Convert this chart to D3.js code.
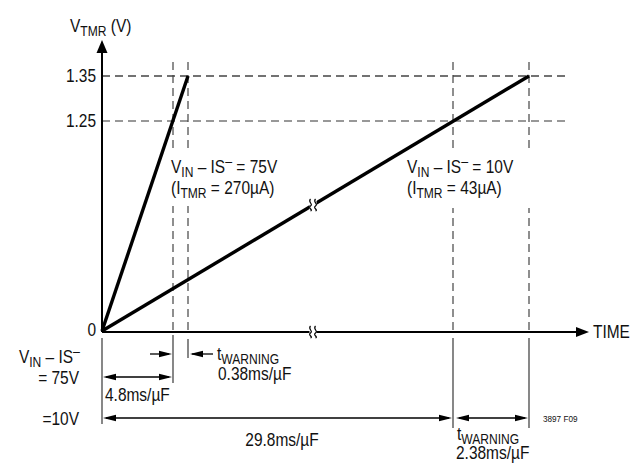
<!DOCTYPE html>
<html>
<head>
<meta charset="utf-8">
<script src="https://cdn.jsdelivr.net/npm/d3@7"></script>
<style>
  html, body { margin: 0; padding: 0; background: #fff; }
  svg text { font-family: "Liberation Sans", Arial, sans-serif; fill: #111; }
</style>
</head>
<body>
<svg id="chart" width="631" height="464"></svg>
<script>
// ---- data ----
const timeMarks = [0, 4.8, 5.18, 29.8, 32.18];          // ms/µF (schematic, broken axis)
const voltTicks = [0, 1.25, 1.35];                        // V
const voltTickLabels = ["0", "1.25", "1.35"];
const line75 = [[0, 0], [5.18, 1.35]];                    // VIN – IS⁻ = 75V
const line10 = [[0, 0], [32.18, 1.35]];                   // VIN – IS⁻ = 10V
const warnTimes = [4.8, 5.18, 29.8, 32.18];

// ---- scales (piecewise: schematic drawing) ----
const x = d3.scaleLinear().domain(timeMarks).range([102, 173, 188, 453, 529]);
const y = d3.scaleLinear().domain(voltTicks).range([331, 121, 76]);

const svg = d3.select("#chart");
const x0 = x(0), y0 = y(0);
const SX = 0.86; // narrow-font emulation

function arrowHead(g, tipX, tipY, dir, len = 13, half = 3.2) {
  let p;
  if (dir === "r") p = [[tipX, tipY], [tipX - len, tipY - half], [tipX - len, tipY + half]];
  else if (dir === "l") p = [[tipX, tipY], [tipX + len, tipY - half], [tipX + len, tipY + half]];
  else p = [[tipX, tipY], [tipX - half - 2, tipY + len], [tipX + half + 2, tipY + len]];
  g.append("path").attr("d", d3.line()(p) + "Z").attr("fill", "#000");
}

// ---- dashed guide lines ----
const guides = svg.append("g");
guides.append("line").attr("x1", x0).attr("x2", 568).attr("y1", y(1.35)).attr("y2", y(1.35))
  .attr("stroke", "#444").attr("stroke-width", 1.3).attr("stroke-dasharray", "8,5");
guides.append("line").attr("x1", x0).attr("x2", 568).attr("y1", y(1.25)).attr("y2", y(1.25))
  .attr("stroke", "#777").attr("stroke-width", 1.6).attr("stroke-dasharray", "8,5");
warnTimes.forEach(t => {
  guides.append("line").attr("x1", x(t)).attr("x2", x(t)).attr("y1", 62).attr("y2", y0)
    .attr("stroke", "#444").attr("stroke-width", 1.2).attr("stroke-dasharray", "8,5");
});
// white backgrounds under in-chart labels (interrupt dashed guides only)
guides.append("rect").attr("x", 166).attr("y", 150).attr("width", 124).attr("height", 56).attr("fill", "#fff");
guides.append("rect").attr("x", 403).attr("y", 151).attr("width", 130).attr("height", 57).attr("fill", "#fff");

// ---- ramps ----
const lineGen = d3.line().x(d => x(d[0])).y(d => y(d[1]));
svg.append("path").attr("d", lineGen(line75)).attr("fill", "none").attr("stroke", "#000").attr("stroke-width", 3.4);
svg.append("path").attr("d", lineGen(line10)).attr("fill", "none").attr("stroke", "#000").attr("stroke-width", 3.4);

// ---- axes ----
const axes = svg.append("g");
axes.append("line").attr("x1", x0).attr("x2", x0).attr("y1", 50).attr("y2", y0 + 1).attr("stroke", "#000").attr("stroke-width", 2);
arrowHead(axes, x0, 40, "u", 13, 3.5);
axes.append("line").attr("x1", x0).attr("x2", 578).attr("y1", y0 + 1).attr("y2", y0 + 1).attr("stroke", "#000").attr("stroke-width", 2);
arrowHead(axes, 589, y0 + 1, "r", 13, 5);

// ---- break marks ----
function breakMark(cx, cy, angle) {
  const g = svg.append("g").attr("transform", `translate(${cx},${cy}) rotate(${angle})`);
  g.append("rect").attr("x", -3.5).attr("y", -5).attr("width", 7).attr("height", 10).attr("fill", "#fff");
  const s = "M0,-6 C-3,-3 3,-1 0,1 C-3,3 3,5 0,6";
  g.append("path").attr("d", s).attr("transform", "translate(-2.5,0)").attr("fill", "none").attr("stroke", "#000").attr("stroke-width", 1.2);
  g.append("path").attr("d", s).attr("transform", "translate(2.5,0)").attr("fill", "none").attr("stroke", "#000").attr("stroke-width", 1.2);
}
const bx = 313;
const by = y0 + (bx - x0) * (y(1.35) - y0) / (x(32.18) - x0);
breakMark(bx, by, 0);
breakMark(bx, y0 + 1, 0);

// helper for (condensed) rich text
function rich(g, xPos, yPos, parts, size, anchor) {
  const t = g.append("text").attr("transform", `translate(${xPos},${yPos}) scale(${SX},1)`).attr("font-size", size);
  if (anchor) t.attr("text-anchor", anchor);
  parts.forEach(p => {
    const ts = t.append("tspan").text(p.t);
    if (p.sub) ts.attr("font-size", size * 0.78).attr("dy", 4);
    if (p.sup) ts.attr("font-size", size * 0.8).attr("dy", -7);
    if (p.back) ts.attr("dy", p.back);
  });
  return t;
}
function plain(g, xPos, yPos, str, size, anchor) {
  return rich(g, xPos, yPos, [{t: str}], size, anchor);
}

const labels = svg.append("g");

// ---- y tick labels ----
voltTicks.forEach((d, i) => plain(labels, 96, y(d) + (d === 0 ? 5 : 6), voltTickLabels[i], 18, "end"));

// y-axis title & x-axis title
rich(labels, 70, 32, [{t: "V"}, {t: "TMR", sub: true}, {t: " (V)", back: -4}], 18);
plain(labels, 593, y0 + 7, "TIME", 18);

// in-chart labels
rich(labels, 171, 173, [{t: "V"}, {t: "IN", sub: true}, {t: " – IS", back: -4}, {t: "–", sup: true}, {t: " = 75V", back: 7}], 18);
rich(labels, 171, 194, [{t: "(I"}, {t: "TMR", sub: true}, {t: " = 270µA)", back: -4}], 18);
rich(labels, 407, 173, [{t: "V"}, {t: "IN", sub: true}, {t: " – IS", back: -4}, {t: "–", sup: true}, {t: " = 10V", back: 7}], 18);
rich(labels, 407, 194, [{t: "(I"}, {t: "TMR", sub: true}, {t: " = 43µA)", back: -4}], 18);

// ---- below-axis dimension lines ----
const dim = svg.append("g");
const vt = [[0, 338, 424], [4.8, 335, 383], [5.18, 339, 358], [29.8, 338, 428], [32.18, 338, 428]];
vt.forEach(d => dim.append("line").attr("x1", x(d[0])).attr("x2", x(d[0])).attr("y1", d[1]).attr("y2", d[2])
  .attr("stroke", "#555").attr("stroke-width", 1.4));

function hline(x1, x2, yy) {
  dim.append("line").attr("x1", x1).attr("x2", x2).attr("y1", yy).attr("y2", yy).attr("stroke", "#000").attr("stroke-width", 1.3);
}
hline(150, x(4.8) - 4, 354); arrowHead(dim, x(4.8) - 1, 354, "r");
hline(x(5.18) + 4, 213, 354); arrowHead(dim, x(5.18) + 2, 354, "l");
hline(x(0) + 4, x(4.8) - 4, 377); arrowHead(dim, x(0) + 1, 377, "l"); arrowHead(dim, x(4.8) - 1, 377, "r");
hline(x(0) + 4, x(29.8) - 4, 418); arrowHead(dim, x(0) + 1, 418, "l"); arrowHead(dim, x(29.8) - 1, 418, "r");
hline(x(29.8) + 6, x(32.18) - 4, 418); arrowHead(dim, x(29.8) + 3, 418, "l"); arrowHead(dim, x(32.18) - 1, 418, "r");

// dimension texts
rich(labels, 80, 363, [{t: "V"}, {t: "IN", sub: true}, {t: " – IS", back: -4}, {t: "–", sup: true}], 18, "end");
plain(labels, 79, 384, "= 75V", 18, "end");
plain(labels, 79, 425, "=10V", 18, "end");
plain(labels, 105, 401, "4.8ms/µF", 18);
rich(labels, 217, 360, [{t: "t"}, {t: "WARNING", sub: true}], 18);
plain(labels, 218, 380, "0.38ms/µF", 18);
plain(labels, 282, 446, "29.8ms/µF", 18, "middle");
rich(labels, 457, 440, [{t: "t"}, {t: "WARNING", sub: true}], 18);
plain(labels, 456, 459, "2.38ms/µF", 18);
plain(labels, 543, 422, "3897 F09", 9.5);
</script>
</body>
</html>
